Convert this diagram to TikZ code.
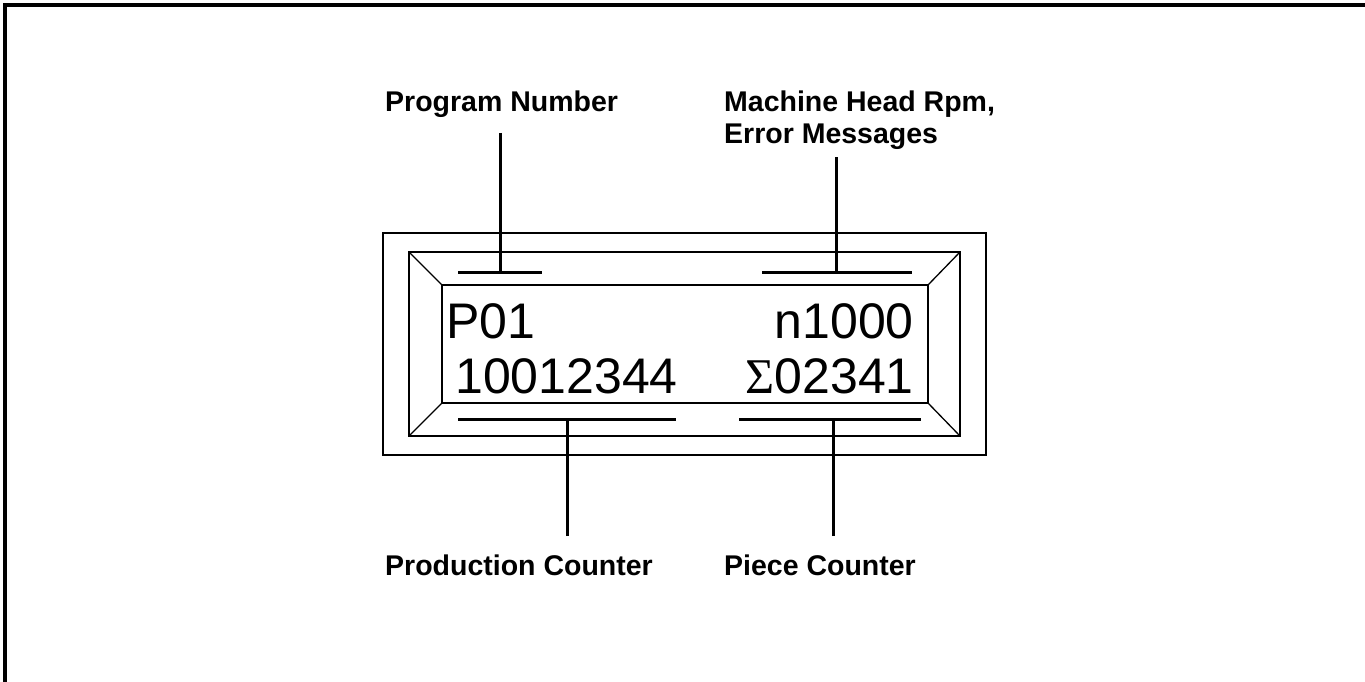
\documentclass[tikz,border=0pt]{standalone}
\usepackage{fontspec}
\setmainfont{Liberation Sans}
\newfontfamily\serifsym{Liberation Serif}
\begin{document}
\begin{tikzpicture}[x=1pt,y=-1pt,
  frame/.style={line width=4pt},
  box/.style={line width=2.2pt},
  bevel/.style={line width=1.3pt},
  lead/.style={line width=3pt},
  lbl/.style={font=\fontsize{28.5}{32}\selectfont\bfseries, inner sep=0pt, anchor=base west},
  lcd/.style={font=\fontsize{50}{55}\selectfont, inner sep=0pt}]
\useasboundingbox (0,0) rectangle (1365,682);
% outer frame (top and left only)
\draw[frame] (5,682) -- (5,5) -- (1365,5);
% display housing
\draw[box] (383,233) rectangle (986,455);
\draw[bevel] (409,252) rectangle (960,436);
\draw[bevel] (442,285) rectangle (928,403);
\draw[bevel] (409,252) -- (442,285);
\draw[bevel] (960,252) -- (928,285);
\draw[bevel] (409,436) -- (442,403);
\draw[bevel] (960,436) -- (928,403);
% display text
\node[lcd, anchor=base west] (p01) at (446,338) {P01};
\node[lcd, anchor=base east] (rpm) at (914,338) {n1000};
\node[lcd, anchor=base west] (prod) at (455,393) {10012344};
\node[lcd, anchor=base east] (piece) at (914,393) {{\serifsym Σ}02341};
% labels
\node[lbl] (lprog) at (385,112) {Program Number};
\node[lbl] (lmach1) at (724,112) {Machine Head Rpm,};
\node[lbl] (lmach2) at (724,143) {Error Messages};
\node[lbl] (lprodc) at (385,575) {Production Counter};
\node[lbl] (lpiece) at (724,575) {Piece Counter};
% bars and leaders
\coordinate (b1l) at (458,272); \coordinate (b1r) at (542,272); \coordinate (b1m) at (500,272); \coordinate (t1) at (500,133);
\coordinate (b2l) at (762,272); \coordinate (b2r) at (912,272); \coordinate (b2m) at (836,272); \coordinate (t2) at (836,157);
\coordinate (b3l) at (458,419); \coordinate (b3r) at (676,419); \coordinate (b3m) at (567,419); \coordinate (t3) at (567,536);
\coordinate (b4l) at (739,419); \coordinate (b4r) at (921,419); \coordinate (b4m) at (833,419); \coordinate (t4) at (833,536);
\draw[lead] (b1l) -- (b1r); \draw[lead] (t1) -- (b1m);
\draw[lead] (b2l) -- (b2r); \draw[lead] (t2) -- (b2m);
\draw[lead] (b3l) -- (b3r); \draw[lead] (t3) -- (b3m);
\draw[lead] (b4l) -- (b4r); \draw[lead] (t4) -- (b4m);
\end{tikzpicture}
\end{document}
